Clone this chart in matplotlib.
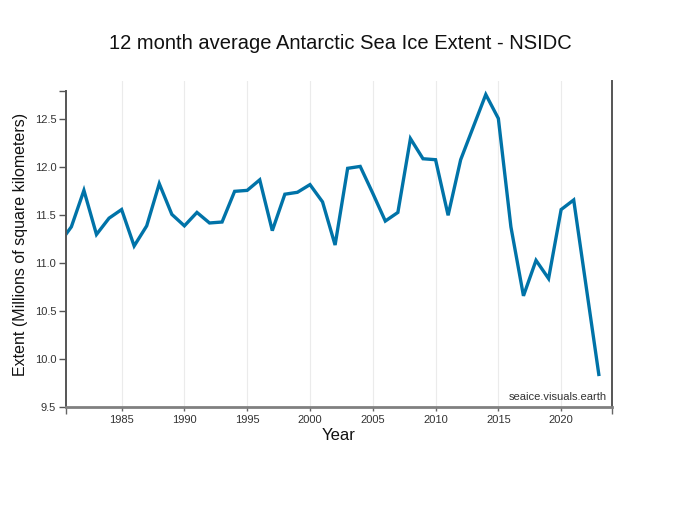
import matplotlib.pyplot as plt

plt.rcParams['font.family'] = ['Liberation Sans', 'DejaVu Sans']

years = list(range(1980, 2024))
extent = [11.20, 11.38, 11.76, 11.30, 11.47, 11.56, 11.18, 11.39, 11.83, 11.51,
          11.39, 11.53, 11.42, 11.43, 11.75, 11.76, 11.87, 11.34, 11.72, 11.74,
          11.82, 11.64, 11.19, 11.99, 12.01, 11.73, 11.44, 11.53, 12.30, 12.09,
          12.08, 11.50, 12.08, 12.42, 12.76, 12.51, 11.38, 10.66, 11.03, 10.84,
          11.56, 11.66, 10.75, 9.84]
xticks = [1985, 1990, 1995, 2000, 2005, 2010, 2015, 2020]
yticks = [9.5, 10.0, 10.5, 11.0, 11.5, 12.0, 12.5]

fig = plt.figure(figsize=(6.8, 5.3), dpi=100)
ax = fig.add_axes([0.097, 0.232, 0.803, 0.615])

ax.plot(years, extent, color='#0073a8', linewidth=2.4, solid_joinstyle='miter')

ax.set_xlim(1980.57, 2024.05)
ax.set_ylim(9.5, 12.9)

ax.set_xticks(xticks)
ax.set_xticklabels([str(y) for y in xticks])
ax.set_xticks([1980.57, 2024.05], minor=True)
ax.set_yticks(yticks)
ax.set_yticklabels(['%.1f' % v for v in yticks])
ax.set_yticks([12.8], minor=True)

ax.grid(axis='x', color='#ebebeb', linewidth=0.8)
ax.set_axisbelow(True)

ax.tick_params(axis='x', which='major', length=3, width=1, color='#666666',
               labelsize=8, labelcolor='#333333', pad=3)
ax.tick_params(axis='x', which='minor', length=5, width=1, color='#666666')
ax.tick_params(axis='y', which='major', length=5, width=1, color='#555555',
               labelsize=8, labelcolor='#333333', pad=2)
ax.tick_params(axis='y', which='minor', length=5, width=1, color='#555555')

ax.spines['top'].set_visible(False)
ax.spines['left'].set_color('#555555')
ax.spines['left'].set_linewidth(1.4)
ax.spines['left'].set_bounds(9.5, 12.8)
ax.spines['right'].set_color('#555555')
ax.spines['right'].set_linewidth(1.4)
ax.spines['bottom'].set_color('#808080')
ax.spines['bottom'].set_linewidth(2)

ax.set_xlabel('Year', fontsize=12, labelpad=2, color='#111111')
ax.set_ylabel('Extent (Millions of square kilometers)', fontsize=11.5, labelpad=5,
              color='#111111')

ax.text(0.99, 0.015, 'seaice.visuals.earth', transform=ax.transAxes,
        ha='right', va='bottom', fontsize=8, color='#333333')

fig.suptitle('12 month average Antarctic Sea Ice Extent - NSIDC', fontsize=14.5,
             y=0.935, color='#111111')

fig.savefig('out.png', dpi=100)
